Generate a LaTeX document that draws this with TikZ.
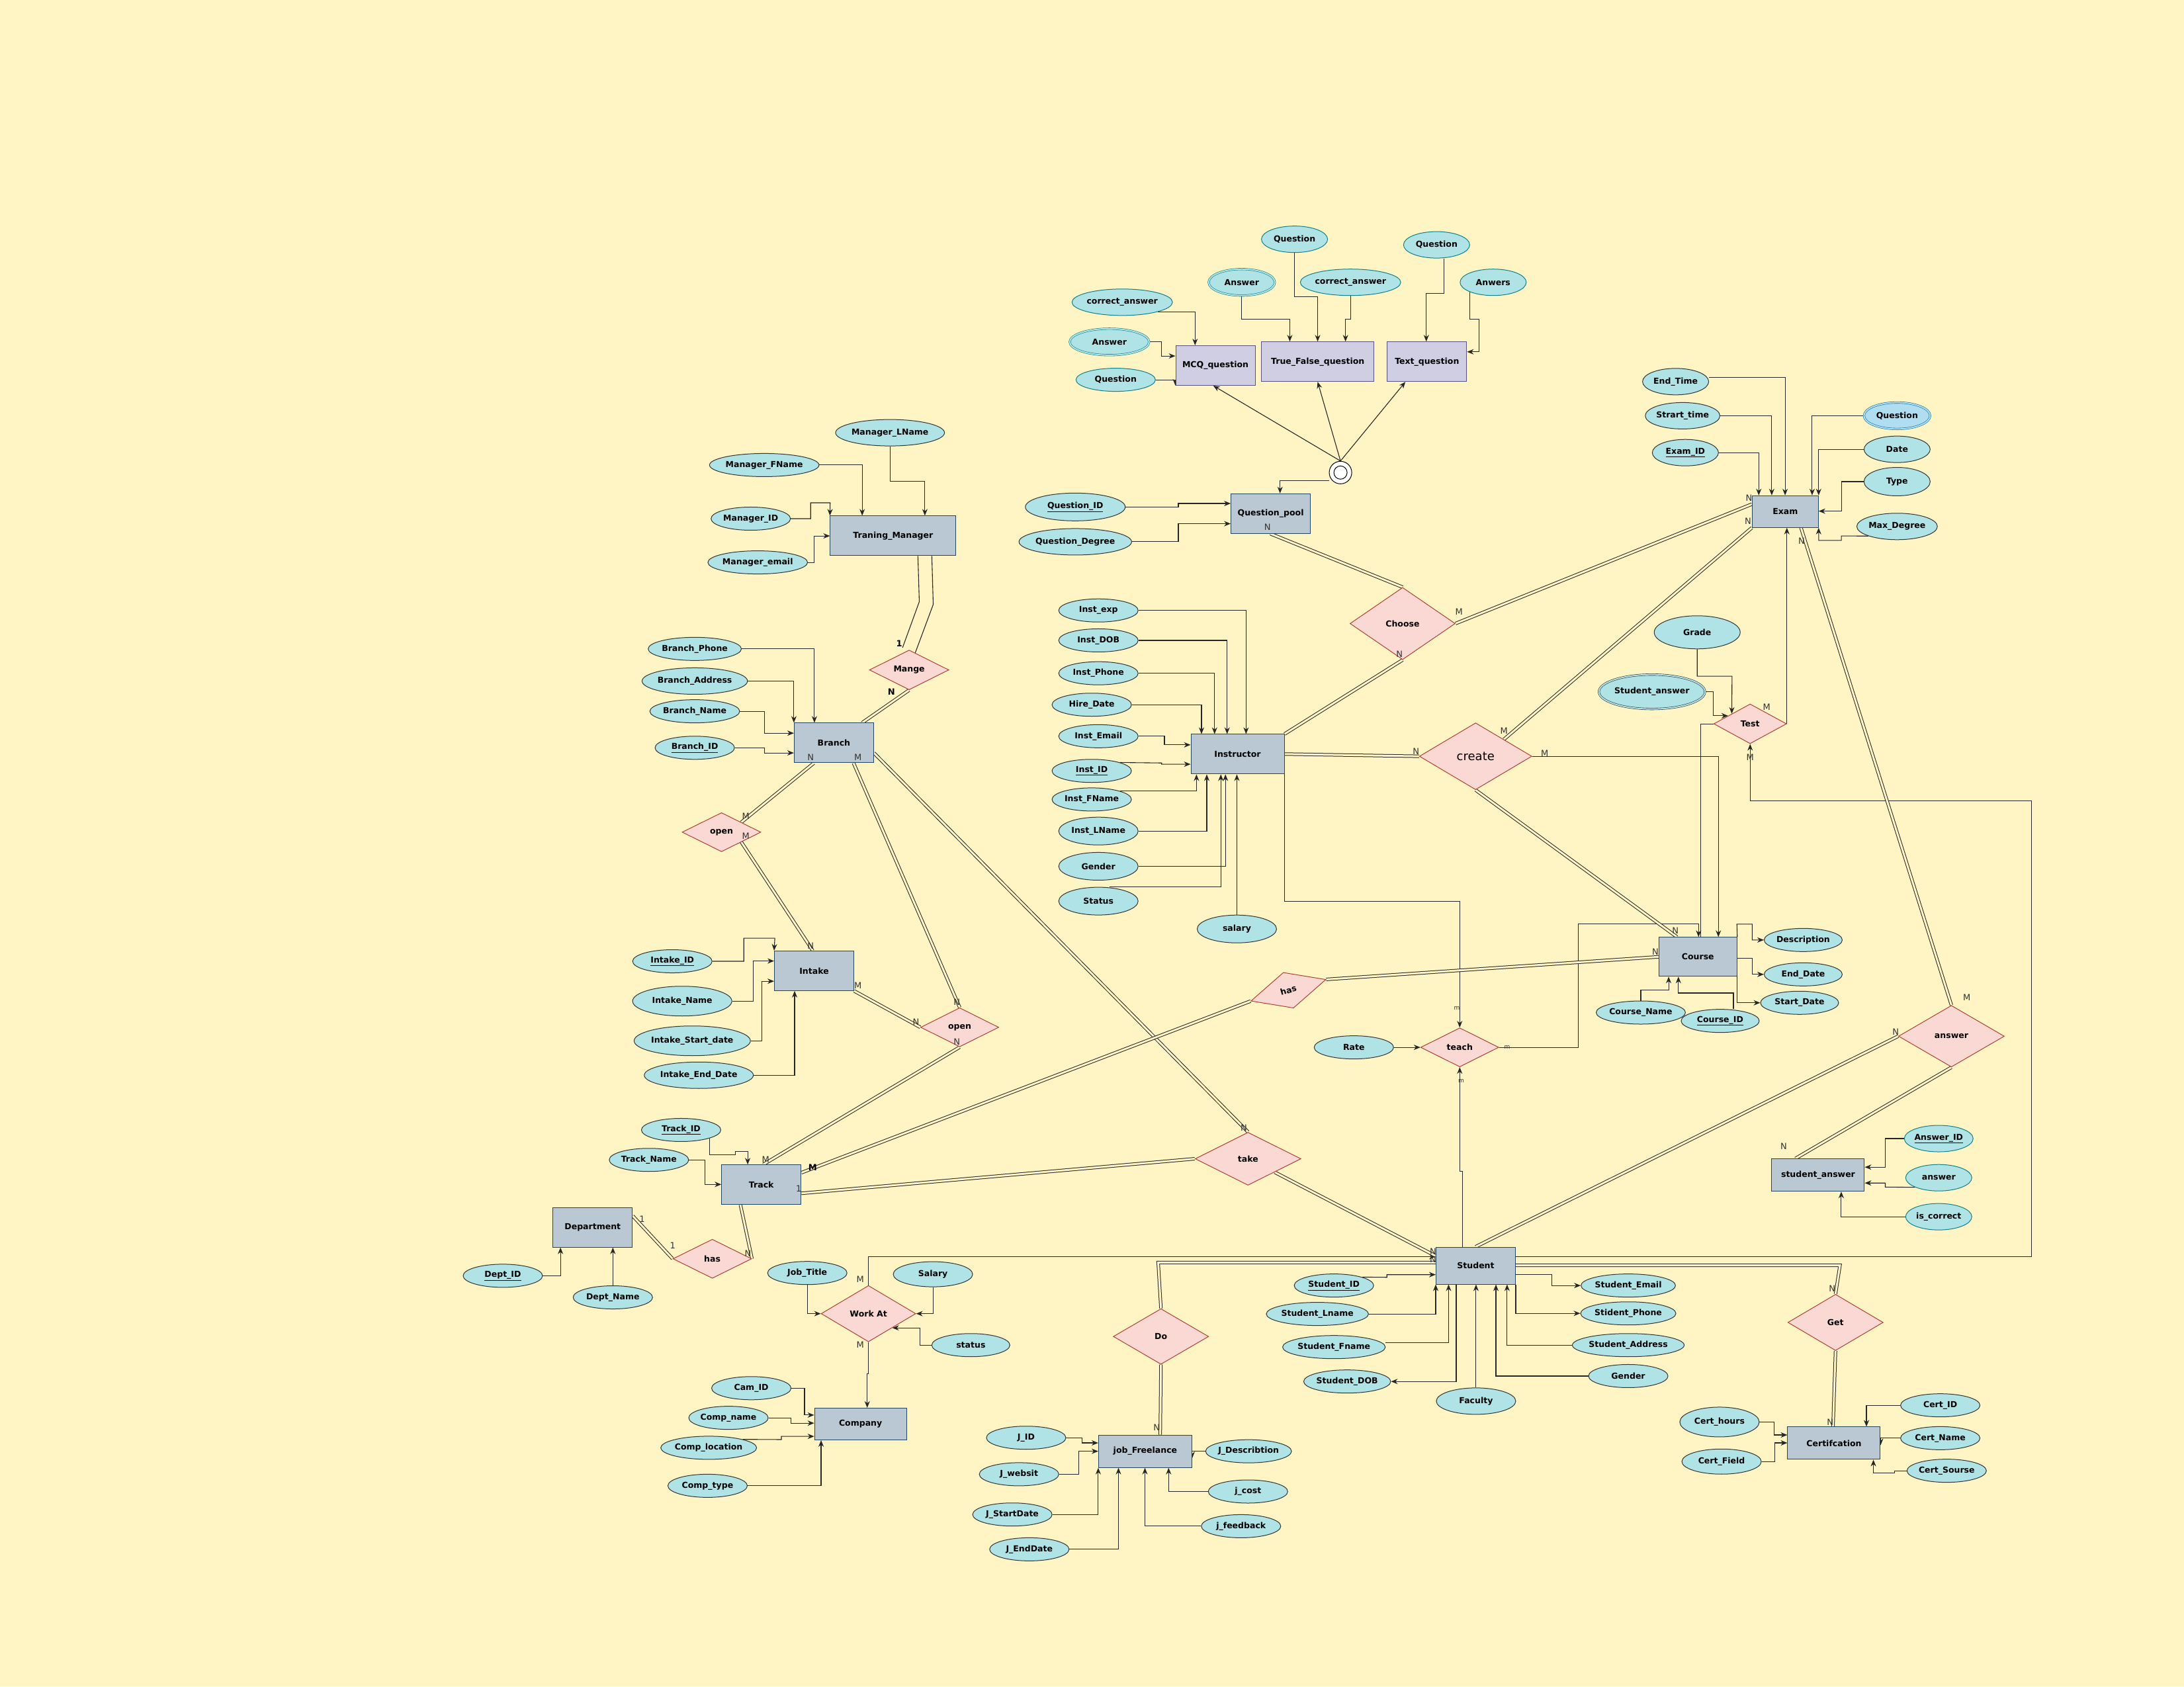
\documentclass[tikz,border=0pt]{standalone}
\usepackage{fontspec}
\setmainfont{DejaVu Sans}
\usetikzlibrary{shapes.geometric}
\usetikzlibrary{arrows.meta}
\usetikzlibrary{positioning}
\usetikzlibrary{calc}

\definecolor{bgcol}{HTML}{FFF4C3}
\definecolor{attrfill}{HTML}{B0E3E6}
\definecolor{attrline}{HTML}{333333}
\definecolor{attrteal}{HTML}{0E8088}
\definecolor{qfill}{HTML}{B1DDF0}
\definecolor{qline}{HTML}{10739E}
\definecolor{entfill}{HTML}{BAC8D3}
\definecolor{entline}{HTML}{23445D}
\definecolor{relfill}{HTML}{FAD9D5}
\definecolor{relline}{HTML}{AE4132}
\definecolor{subfill}{HTML}{D0CEE2}
\definecolor{subline}{HTML}{56517E}

\newcommand{\lblfont}{\fontsize{12.5pt}{14pt}\selectfont\bfseries}
\newcommand{\cardfont}{\fontsize{13pt}{14pt}\selectfont}
\newcommand{\bigrelfont}{\fontsize{18pt}{20pt}\selectfont}

\pgfdeclarelayer{bglayer}
\pgfdeclarelayer{edgelayer}
\pgfsetlayers{bglayer,edgelayer,main}

\tikzset{
  attr/.style={ellipse, draw=attrline, fill=attrfill, line width=1pt, inner sep=0pt,
    minimum width=120pt, minimum height=35pt, font=\lblfont},
  tattr/.style={attr, draw=attrteal},
  multi/.style={double=attrfill, double distance=2pt, line width=0.6pt},
  entity/.style={rectangle, draw=entline, fill=entfill, line width=1pt, inner sep=0pt,
    minimum width=120pt, minimum height=60pt, font=\lblfont},
  subent/.style={entity, draw=subline, fill=subfill},
  rel/.style={diamond, draw=relline, fill=relfill, line width=1pt, inner sep=0pt,
    minimum width=119pt, minimum height=59pt, font=\lblfont},
  arr/.style={draw=black!85, line width=1.1pt, -{Stealth[length=10pt,width=8pt]}},
  link/.style={draw=black!85, line width=1.1pt},
  dbl/.style={draw=black!85, line width=1pt, double=bgcol, double distance=3pt},
  card/.style={font=\cardfont, text=black!80, inner sep=0pt},
  cardb/.style={card, font=\cardfont\bfseries, text=black}
}

\begin{document}
\begin{tikzpicture}[x=2.1053pt, y=-2.1053pt]

\begin{pgfonlayer}{bglayer}
\path[use as bounding box, fill=bgcol] (0,0) rectangle (1568,1211);
\end{pgfonlayer}

% question types
\node[subent] (mcq) at (872.6,262.4) {MCQ\_question};
\node[subent, minimum width=170pt] (tf) at (946.1,259.7) {True\_False\_question};
\node[subent] (textq) at (1024.5,259.7) {Text\_question};
\node[tattr, minimum width=100pt, minimum height=40pt] (tfq) at (929.4,171.8) {Question};
\node[tattr, minimum width=140pt, minimum height=40pt] (mcqca) at (805.7,217) {correct\_answer};
\node[tattr, multi, minimum width=100pt, minimum height=40pt] (tfans) at (891.5,202.7) {Answer};
\node[tattr, minimum width=130pt, minimum height=40pt] (tfca) at (969.6,202.7) {correct\_answer};
\node[tattr, minimum width=100pt, minimum height=40pt] (txq) at (1031.4,175.8) {Question};
\node[tattr, minimum width=100pt, minimum height=40pt] (txans) at (1072,202.7) {Anwers};
\node[tattr, multi, minimum width=120pt, minimum height=40pt] (mcqans) at (796.5,245.5) {Answer};
\node[tattr] (mcqq) at (801,272.7) {Question};
\node[circle, draw=black, fill=white, line width=1pt, minimum size=34pt, inner sep=0pt] (circ) at (962.4,339.3) {};
\node[circle, draw=black, line width=1pt, minimum size=20pt, inner sep=0pt] (circin) at (circ) {};

% question pool
\node[entity] (qpool) at (912.3,368.7) {Question\_pool};
\node[attr, minimum width=151pt, minimum height=42pt] (qid) at (772,364) {\underline{Question\_ID}};
\node[attr, minimum width=151pt, minimum height=40pt] (qdeg) at (772,389) {Question\_Degree};

% exam
\node[entity, minimum width=100pt, minimum height=48pt] (exam) at (1281.7,367.3) {Exam};
\node[attr, minimum width=100pt, minimum height=40pt] (etime) at (1203,274) {End\_Time};
\node[attr, minimum width=100pt, minimum height=40pt] (stime) at (1208,298.5) {Strart\_time};
\node[attr, minimum width=100pt, minimum height=40pt] (eid) at (1210,325) {\underline{Exam\_ID}};
\node[attr, draw=qline, fill=qfill, double=qfill, double distance=2pt, line width=0.6pt,
  minimum width=100pt, minimum height=40pt] (exq) at (1362,298.5) {Question};
\node[attr, minimum width=100pt, minimum height=40pt] (edate) at (1362,322.6) {Date};
\node[attr, minimum width=100pt, minimum height=43pt] (etype) at (1362,345.8) {Type};
\node[attr, minimum width=100pt, minimum height=40pt] (emax) at (1362,378) {Max\_Degree};
\node[attr, minimum width=130pt, minimum height=50pt] (grade) at (1218.5,454) {Grade};
\node[attr, multi, minimum width=141pt, minimum height=52pt] (stans) at (1186,496.7) {Student\_answer};

% training manager
\node[entity, minimum width=190pt] (tm) at (641.2,384.7) {Traning\_Manager};
\node[attr, minimum height=40pt] (mlname) at (639,310.7) {Manager\_LName};
\node[attr] (mfname) at (548.7,333.9) {Manager\_FName};
\node[attr] (mid) at (539,372.4) {Manager\_ID};
\node[attr] (memail) at (544,403.8) {Manager\_email};

% branch
\node[entity] (branch) at (598.7,533.4) {Branch};
\node[attr] (bphone) at (498.8,465.9) {Branch\_Phone};
\node[attr, minimum height=40pt] (baddr) at (498.8,489) {Branch\_Address};
\node[attr] (bname) at (498.8,510.7) {Branch\_Name};
\node[attr] (bid) at (498.8,536.9) {\underline{Branch\_ID}};

% instructor
\node[entity, minimum width=141pt] (inst) at (888.5,541.5) {Instructor};
\node[attr] (iexp) at (788.6,438.3) {Inst\_exp};
\node[attr] (idob) at (788.6,459.8) {Inst\_DOB};
\node[attr] (iphone) at (788.6,483.4) {Inst\_Phone};
\node[attr] (ihire) at (783.8,506) {Hire\_Date};
\node[attr] (iemail) at (788.6,528.6) {Inst\_Email};
\node[attr] (iid) at (783.8,553.5) {\underline{Inst\_ID}};
\node[attr] (ifname) at (783.8,574) {Inst\_FName};
\node[attr, minimum height=42pt] (ilname) at (788.6,596.7) {Inst\_LName};
\node[attr, minimum height=42pt] (igender) at (788.6,622) {Gender};
\node[attr, minimum height=42pt] (istatus) at (788.6,647) {Status};
\node[attr, minimum height=42pt] (isalary) at (888,667) {salary};

% relationships
\node[rel, minimum width=120pt, minimum height=60pt] (mange) at (652.7,481) {Mange};
\node[rel] (open1) at (518,597.5) {open};
\node[rel, minimum width=118pt] (open2) at (689,737.6) {open};
\node[rel] (hasdt) at (511.4,903.8) {has};
\node[rel, minimum width=160pt, minimum height=80pt] (take) at (896,832) {take};
\node[rel, minimum width=118pt, minimum height=56pt, rotate=16] (hasct) at (925,711) {has};
\node[rel, minimum width=143pt, minimum height=85pt] (workat) at (623.5,943.2) {Work At};
\node[rel, minimum width=144pt, minimum height=84pt] (do) at (833.5,959.6) {Do};
\node[rel, minimum width=144pt, minimum height=85pt] (get) at (1317.8,949.5) {Get};
\node[rel, minimum width=118pt] (teach) at (1048,752) {teach};
\node[rel, minimum width=160pt, minimum height=93pt] (answer) at (1401,744) {answer};
\node[rel, minimum width=110pt, minimum height=60pt] (test) at (1256.5,519.7) {Test};
\node[rel, minimum width=170pt, minimum height=101pt, font=\bigrelfont] (create) at (1059.4,543) {create};
\node[rel, minimum width=159pt, minimum height=109pt] (choose) at (1007,447.7) {Choose};

% intake
\node[entity] (intake) at (584.5,697) {Intake};
\node[attr] (intid) at (482.7,690.2) {\underline{Intake\_ID}};
\node[attr, minimum width=150pt, minimum height=45pt] (intname) at (489.8,718.8) {Intake\_Name};
\node[attr, minimum width=170pt, minimum height=45pt] (intstart) at (497,747.3) {Intake\_Start\_date};
\node[attr, minimum width=160pt, minimum height=40pt] (intend) at (501.7,772) {Intake\_End\_Date};

% track, department
\node[entity] (track) at (546.6,850.6) {Track};
\node[attr] (tid) at (489,811.3) {\underline{Track\_ID}};
\node[attr] (tname) at (465.9,832.8) {Track\_Name};
\node[entity] (dept) at (425.5,881.2) {Department};
\node[attr] (did) at (361,916) {\underline{Dept\_ID}};
\node[attr] (dname) at (440,931.5) {Dept\_Name};

% company
\node[attr] (jtitle) at (579.6,914) {Job\_Title};
\node[attr, minimum height=38pt] (wsalary) at (669.8,914.9) {Salary};
\node[attr, minimum width=118pt] (wstatus) at (697,965.8) {status};
\node[entity, minimum width=139pt, minimum height=48pt] (company) at (617.8,1022.4) {Company};
\node[attr] (camid) at (539.4,996.7) {Cam\_ID};
\node[attr] (cname) at (523,1018) {Comp\_name};
\node[attr] (cloc) at (508.8,1039.5) {Comp\_location};
\node[attr] (ctype) at (508,1066.8) {Comp\_type};

% job freelance
\node[entity, minimum width=141pt, minimum height=49pt] (jobf) at (822.2,1042) {job\_Freelance};
\node[attr] (jid) at (736.7,1032.3) {J\_ID};
\node[attr] (jweb) at (731.6,1058.5) {J\_websit};
\node[attr] (jstart) at (726.8,1087.4) {J\_StartDate};
\node[attr] (jend) at (739,1112.4) {J\_EndDate};
\node[attr] (jdesc) at (896.4,1042) {J\_Describtion};
\node[attr] (jcost) at (896,1070.9) {j\_cost};
\node[attr] (jfeed) at (891,1095.8) {j\_feedback};

% student
\node[entity, minimum height=56pt] (student) at (1059.5,908.7) {Student};
\node[attr] (sid) at (957.7,923) {\underline{Student\_ID}};
\node[attr] (slname) at (945.8,943.4) {Student\_Lname};
\node[attr] (sfname) at (957.7,967.2) {Student\_Fname};
\node[attr] (sdob) at (967.2,991.9) {Student\_DOB};
\node[attr, minimum height=40pt] (sfac) at (1059.7,1006) {Faculty};
\node[attr] (semail) at (1169,923) {Student\_Email};
\node[attr] (sphone) at (1169,943) {Stident\_Phone};
\node[attr, minimum width=140pt] (saddr) at (1169,965.8) {Student\_Address};
\node[attr] (sgender) at (1169,988) {Gender};

% course
\node[entity, minimum width=118pt, minimum height=59pt] (course) at (1219,687) {Course};
\node[attr, minimum width=118pt] (cdesc) at (1294.6,674.9) {Description};
\node[attr, minimum width=118pt] (cend) at (1294.6,699.6) {End\_Date};
\node[attr, minimum width=118pt] (cstart) at (1292,720) {Start\_Date};
\node[attr, minimum width=118pt] (ccname) at (1178,727) {Course\_Name};
\node[attr, minimum width=118pt] (ccid) at (1235,733) {\underline{Course\_ID}};
\node[attr] (rate) at (972,752) {Rate};

% student answer, certification
\node[entity, minimum width=140pt, minimum height=49pt] (sans) at (1305.3,843.7) {student\_answer};
\node[tattr, minimum width=100pt, minimum height=40pt] (aid) at (1391.9,817.5) {\underline{Answer\_ID}};
\node[tattr, minimum width=100pt, minimum height=40pt] (ans) at (1391.9,845.6) {answer};
\node[tattr, minimum width=100pt, minimum height=40pt] (iscorr) at (1391.9,873.6) {is\_correct};
\node[entity, minimum width=140pt, minimum height=49pt] (cert) at (1316.7,1036.2) {Certifcation};
\node[attr] (certid) at (1393,1009) {Cert\_ID};
\node[attr] (certname) at (1393,1032.6) {Cert\_Name};
\node[attr] (certsrc) at (1397.6,1056) {Cert\_Sourse};
\node[attr, minimum height=45pt] (chours) at (1234.5,1021) {Cert\_hours};
\node[attr, minimum height=38pt] (cfield) at (1236,1049.4) {Cert\_Field};

\begin{pgfonlayer}{edgelayer}
% attributes of the question types
\draw[arr] (mcqca.south east) -| (mcq.north -| 858,0);
\draw[arr] (mcqans.east) -- (834,245.5) |- (mcq.west |- 0,255.6);
\draw[arr] (mcqq.east) -| (mcq.south west);
\draw[arr] (tfans.south) |- (926,229) -- (tf.north -| 926,0);
\draw[arr] (tfq.south) |- (946,213) -- (tf.north -| 946,0);
\draw[arr] (tfca.south) |- (966,229) -- (tf.north -| 966,0);
\draw[arr] ([xshift=11pt]txq.south) |- (1024,210.5) -- (textq.north -| 1024,0);
\draw[arr] (txans.south west) |- (1062,229) |- (textq.east |- 0,252.6);
\draw[arr] (circ.north) -- (mcq.south -| 871,0);
\draw[arr] (circ.north) -- (tf.south -| 946,0);
\draw[arr] (circ.north) -- (textq.south -| 1009,0);
\draw[arr] (circ.west |- 0,345) -| (qpool.north -| 919,0);
\draw[arr] (qid.east) -- (846,364) |- (qpool.west |- 0,361.5);
\draw[arr] (qdeg.east) -- (846,389) |- (qpool.west |- 0,376);
% exam
\draw[arr] ([yshift=6pt]etime.east) -| (exam.north -| 1281.6,0);
\draw[arr] (stime.east) -| (exam.north -| 1272,0);
\draw[arr] (eid.east) -| (exam.north -| 1262.7,0);
\draw[arr] (exq.west) -| (exam.north -| 1301,0);
\draw[arr] (edate.west) -| (exam.north east);
\draw[arr] (etype.west) -- (1322,345.8) |- (exam.east |- 0,367);
\draw[arr] (emax.south west) -- (1322,384.8) -- (1322,388) -| (exam.south east);
\draw[arr] (grade.south) |- (1243.5,485.5) -- (test.north west);
\draw[arr] (stans.east) -- (1230,496.7) |- ($(test.west)!0.4!(test.north)$);
\draw[arr] (test.east) -- (exam.south -| test.east);
\draw[arr] (test.west) -| (1221,678) -| (course.north -| 1227,0);
\draw[arr] (create.east) -| (course.north -| 1233.7,0);
\draw[arr] (student.east |- 0,902.3) -| (1458.6,575) -| (test.south);
% manager, branch
\draw[arr] (mlname.south) |- (664,345.6) -- (tm.north -| 664,0);
\draw[arr] (mfname.east) -| (tm.north -| 619,0);
\draw[arr] (mid.east) -- (582,372.4) |- (596,361) -- (tm.north west);
\draw[arr] (memail.east) -- (584.4,403.8) |- (tm.west |- 0,384.8);
\draw[arr] (bphone.east) -| (branch.north -| 584.7,0);
\draw[arr] (baddr.east) -| (branch.north west);
\draw[arr] (bname.east) -- (548.7,510.7) |- (branch.west |- 0,526.4);
\draw[arr] (bid.east) -- (548.7,536.9) |- (branch.west |- 0,540.6);
% instructor
\draw[arr] (iexp.east) -| (inst.north -| 894.6,0);
\draw[arr] (idob.east) -| (inst.north -| 881,0);
\draw[arr] (iphone.east) -| (inst.north -| 872,0);
\draw[arr] (ihire.east) -| (inst.north -| 862.6,0);
\draw[arr] (iemail.east) -- (836,528.6) |- (inst.west |- 0,534.8);
\draw[arr] (iid.north east) -- (834,547.8) |- (inst.west |- 0,548.7);
\draw[arr] (ifname.north east) -| (inst.south -| 859,0);
\draw[arr] (ilname.east) -| (inst.south -| 866.4,0);
\draw[arr] (igender.east) -| (inst.south -| 879.8,0);
\draw[arr] ([xshift=17pt]istatus.north) -| (inst.south -| 876.5,0);
\draw[arr] (isalary.north) -- (inst.south -| isalary.north);
\draw[arr] (inst.south east) |- (1048,647) -- (teach.north);
% teach
\draw[arr] (rate.east) -- (teach.west);
\draw[arr] (teach.east) -| (1133,663.5) -| (course.north -| 1219.5,0);
\draw[arr] (student.north -| 1050,0) |- (1048,841) -- (teach.south);
% course
\draw[arr] (course.north east) -- (1247,663.5) -- (1258,663.5) |- (cdesc.west);
\draw[arr] (course.east |- 0,688) -- (1258,688) |- (cend.west);
\draw[arr] (course.south east) |- (cstart.west);
\draw[arr] (ccname.north) |- (1198,711) -- (course.south -| 1198,0);
\draw[arr] ([xshift=20pt]ccid.north) |- (1205,713) -- (course.south -| 1205,0);
% intake, track, department
\draw[arr] (intid.east) -- (534,690.2) |- (556.3,673.6) -- (intake.north west);
\draw[arr] (intname.east) -- (541,718.8) |- (intake.west |- 0,690);
\draw[arr] (intstart.east) -- (546.8,747.3) |- (intake.west |- 0,704.5);
\draw[arr] (intend.east) -| (intake.south -| 570.5,0);
\draw[arr] (tid.south east) |- (527.8,829) |- (536.8,826.6) -- (track.north -| 536.8,0);
\draw[arr] (tname.east) -- (506,832.8) |- (track.west |- 0,850.4);
\draw[arr] (did.east) -| (dept.south -| 402.4,0);
\draw[arr] (dname.north) -- (dept.south -| dname.north);
% work at, company
\draw[arr] (jtitle.south) |- (workat.west);
\draw[arr] (wsalary.south) |- (workat.east);
\draw[arr] (wstatus.west) -- (660.5,965.8) |- (workat.south east);
\draw[arr] (workat.south) |- (622.6,986.5) -- (company.north -| 622.6,0);
\draw[arr] (workat.north) |- (student.west |- 0,902.3);
\draw[arr] (camid.east) -- (577.6,996.7) |- (company.west |- 0,1016);
\draw[arr] (cname.east) -- (568,1018) |- (company.west |- 0,1021.8);
\draw[arr] (cloc.north east) -- (561,1033.6) |- (company.west |- 0,1031.3);
\draw[arr] (ctype.east) -| (company.south -| 589.5,0);
% job freelance
\draw[arr] (jid.east) -- (776.8,1032.3) |- (jobf.west |- 0,1036);
\draw[arr] (jweb.east) -- (774.6,1058.5) |- (jobf.west |- 0,1042);
\draw[arr] (jstart.east) -| (jobf.south west);
\draw[arr] (jend.east) -| (jobf.south -| 803,0);
\draw[arr] (jdesc.west) -- (jobf.east |- jdesc.west) -- ++(0,5);
\draw[arr] (jcost.west) -| (jobf.south -| 839,0);
\draw[arr] (jfeed.west) -| (jobf.south -| 822,0);
% student
\draw[arr] (sid.north east) -- (995.7,917.1) |- (student.west |- 0,915.2);
\draw[arr] (slname.east) -| (student.south west);
\draw[arr] (sfname.east |- 0,964) -| (student.south -| 1040,0);
\draw[arr] (student.south -| 1045.5,0) |- (sdob.east);
\draw[arr] (sfac.north) -- (student.south -| sfac.north);
\draw[arr] (sgender.west) -| (student.south -| 1074,0);
\draw[arr] (saddr.west) -| (student.south -| 1082,0);
\draw[arr] (student.south east) |- (sphone.west);
\draw[arr] (student.east |- 0,915) -- (1114,915) |- (semail.west);
% student answer, certification
\draw[arr] (aid.west) -- (1353.5,817.5) |- (sans.east |- 0,838);
\draw[arr] (ans.south west) -- (1353.5,852.3) |- (sans.east |- 0,849.4);
\draw[arr] (iscorr.west) -| (sans.south -| 1321.9,0);
\draw[arr] (certid.west) -| (cert.north -| 1340,0);
\draw[arr] (certname.west) -- (cert.east |- certname.west) -- ++(0,5);
\draw[arr] (certsrc.west) -| (1360,1057.5) -| (cert.south -| 1345,0);
\draw[arr] (chours.east) -- (1273.7,1021) |- (cert.west |- 0,1030.3);
\draw[arr] (cfield.east) -- (1274,1049.4) |- (cert.west |- 0,1036);

% relationship lines
\draw[link] (tm.south -| 659,0) -- (660,432) -- (648,465);
\draw[link] (tm.south -| 669,0) -- (670,434) -- (657,469);
\draw[dbl] (branch.north -| 619,0) -- (mange.south);
\draw[dbl] (branch.south -| 584.3,0) -- (open1.north east);
\draw[dbl] (open1.south east) -- (intake.north -| 583.5,0);
\draw[dbl] (branch.south -| 612.8,0) -- (open2.north);
\draw[dbl] (intake.south east) -- (open2.west);
\draw[dbl] (open2.south) -- (track.north -| 548,0);
\draw[dbl] (branch.east |- 0,540.6) -- (take.north);
\draw[dbl] (track.east |- 0,842) -- (hasct.west);
\draw[dbl] (hasct.east) -- (course.west |- 0,687);
\draw[dbl] (track.east |- 0,856.8) -- (take.west);
\draw[dbl] (take.south east) -- (student.west |- 0,901.8);
\draw[dbl] (track.south -| 531.6,0) -- (hasdt.east);
\draw[dbl] (dept.east |- 0,873) -- (hasdt.west);
\draw[dbl] (do.north) -- (831.5,906.5) -- (student.west |- 0,906.5);
\draw[dbl] (do.south) -- (jobf.north -| 833,0);
\draw[dbl] (student.east |- 0,908.5) -- (1321,908.5) -- (get.north);
\draw[dbl] (get.south) -- (cert.north -| 1316,0);
\draw[dbl] (answer.west) -- (student.north -| 1059.4,0);
\draw[dbl] (exam.south -| 1293,0) -- (answer.north);
\draw[dbl] (answer.south) -- (sans.north -| 1289,0);
\draw[dbl] (exam.west |- 0,362) -- (choose.east);
\draw[dbl] (choose.north) -- (qpool.south -| 912,0);
\draw[dbl] (choose.south) -- (inst.north east);
\draw[dbl] (exam.south west) -- (create.north east);
\draw[dbl] (inst.east |- 0,541.4) -- (create.west);
\draw[dbl] (create.south) -- (course.north -| 1204,0);
\end{pgfonlayer}

% cardinalities
\foreach \cx/\cy/\ct [count=\i] in {
  910/378.7/N, 1047.5/439.5/M, 1004.7/469.8/N, 1255.7/357.4/N, 1255/374.3/N,
  1293.4/388.6/N, 1079.8/524.9/M, 1016.6/539.6/N, 1109/541/M, 1268.4/507.8/M,
  1256.5/543.6/M, 1202.8/668.3/N, 1188.5/683.3/N, 1412/716/M, 1361/741/N,
  1280.6/822.9/N, 1315.4/925.4/N, 1314/1021/N, 830.4/1025/N, 1028.8/898.6/N,
  1028.8/904.5/N, 893/810/N, 549.7/832.5/M, 573.5/853.7/1, 461/875.5/1,
  483/894.5/1, 537/899.8/N, 617.6/918.4/M, 617.6/965.4/M, 616/707.5/M,
  657.6/734/N, 687/719.7/N, 687/748/N, 582/679/N, 535.4/586/M,
  535.4/600.5/M, 582/544/N, 616/544/M}
  \node[card] (card\i) at (\cx,\cy) {\ct};
\node[card, font=\fontsize{9pt}{10pt}\selectfont] (tm1) at (1046,724) {m};
\node[card, font=\fontsize{9pt}{10pt}\selectfont] (tm2) at (1082,752) {m};
\node[card, font=\fontsize{9pt}{10pt}\selectfont] (tm3) at (1049,776) {m};
\node[cardb] (trackM) at (583.5,838.5) {M};
\node[cardb] (mangeN) at (640,496.6) {N};
\node[cardb] (mange1) at (645.6,462) {1};

\end{tikzpicture}
\end{document}
